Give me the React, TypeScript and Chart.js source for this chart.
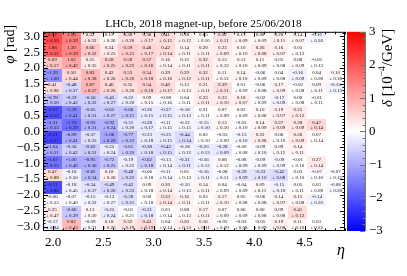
import React, { useEffect, useRef } from "react";
import { Chart, registerables } from "chart.js";

Chart.register(...registerables);

const TITLE = "LHCb, 2018 magnet-up, before 25/06/2018";
const ETA_MIN = 1.9;
const ETA_MAX = 4.9;
const PHI_MIN = -Math.PI;
const PHI_MAX = Math.PI;
const N_ETA = 16;
const N_PHI = 16;
const ETA_TICKS = [2.0, 2.5, 3.0, 3.5, 4.0, 4.5];
const PHI_TICKS = [-3.0, -2.5, -2.0, -1.5, -1.0, -0.5, 0.0, 0.5, 1.0, 1.5, 2.0, 2.5, 3.0];
const DELTA_TICKS = [-3, -2, -1, 0, 1, 2, 3];
const DELTA_RANGE = 3;

// rows listed from the top phi bin (near +pi) to the bottom one (near -pi); null = empty bin
const DELTA: (number | null)[][] = [
  [2.12, 1.53, 0.32, 0.11, 0.38, 0.38, 0.41, 0.18, 0.05, 0.32, 0.13, 0.08, 0.20, 0.14, -0.10, null],
  [1.88, 1.39, 0.66, 0.24, 0.59, 0.48, 0.42, 0.14, 0.20, 0.23, 0.10, 0.26, 0.16, 0.05, null, null],
  [0.69, 1.02, 0.25, 0.58, 0.58, 0.57, 0.16, 0.12, 0.32, 0.13, 0.11, 0.11, 0.02, 0.08, -0.02, null],
  [-1.29, 0.50, 0.83, 0.42, 0.53, 0.54, 0.29, 0.29, 0.32, 0.11, 0.14, -0.06, 0.04, -0.16, 0.04, 0.10],
  [0.41, -0.48, 0.87, 0.46, 0.35, 0.54, 0.40, 0.13, 0.21, 0.39, 0.01, -0.06, 0.17, -0.02, 0.09, -0.15],
  [-0.78, -0.59, -0.56, -0.45, -0.22, 0.09, -0.08, 0.04, 0.23, 0.23, 0.18, -0.02, -0.17, 0.00, -0.01, null],
  [-2.07, -1.39, -0.65, -0.62, -0.66, -0.26, -0.27, -0.18, 0.01, 0.07, 0.02, 0.10, 0.19, 0.25, null, null],
  [-1.31, -1.70, -0.93, -0.92, -0.31, -0.28, -0.11, -0.12, -0.15, 0.13, -0.03, 0.14, 0.27, 0.28, 0.47, null],
  [-2.21, -0.99, -0.37, -1.06, -0.77, -0.23, -0.25, -0.44, 0.02, -0.03, -0.13, 0.22, 0.06, 0.26, 0.07, null],
  [-1.04, -0.56, -0.62, -0.25, -0.61, -0.38, -0.42, -0.18, -0.23, -0.28, -0.004, -0.09, 0.09, 0.14, null, null],
  [-1.67, -1.00, -0.95, -0.72, -0.19, -0.62, -0.13, -0.31, -0.16, 0.08, -0.08, -0.09, -0.09, -0.01, 0.27, null],
  [0.47, -0.18, -0.82, 0.18, -0.48, -0.06, -0.11, 0.05, -0.16, -0.08, -0.29, -0.33, -0.42, 0.03, -0.07, -0.07],
  [-2.11, -0.18, -0.34, -0.49, -0.42, 0.09, 0.20, -0.10, 0.14, 0.04, -0.04, 0.09, -0.15, 0.05, 0.03, -0.08],
  [-0.06, -0.07, -0.15, -0.13, -0.38, 0.00, 0.33, 0.16, 0.03, 0.17, 0.05, -0.06, 0.14, 0.13, -0.14, null],
  [0.25, -0.66, 0.13, -0.25, -0.01, -0.31, 0.03, 0.08, 0.17, 0.07, 0.06, 0.06, 0.09, 0.41, null, null],
  [-0.17, 0.82, -0.09, 0.18, 0.32, 0.43, 0.04, 0.20, 0.16, -0.02, -0.03, -0.05, 0.19, 0.11, 0.03, null],
];

const ERRORS: (number | null)[][] = [
  [0.50, 0.39, 0.32, 0.26, 0.20, 0.17, 0.15, 0.12, 0.10, 0.11, 0.09, 0.09, 0.11, 0.07, 0.26, null],
  [0.52, 0.39, 0.32, 0.23, 0.21, 0.17, 0.14, 0.11, 0.11, 0.09, 0.10, 0.08, 0.07, 0.12, null, null],
  [0.57, 0.42, 0.35, 0.25, 0.22, 0.16, 0.14, 0.11, 0.11, 0.12, 0.10, 0.09, 0.08, 0.09, 0.13, null],
  [1.00, 0.44, 0.38, 0.26, 0.20, 0.18, 0.16, 0.12, 0.11, 0.12, 0.10, 0.09, 0.08, 0.09, 0.08, 0.18],
  [0.96, 0.37, 0.37, 0.26, 0.20, 0.18, 0.17, 0.13, 0.11, 0.11, 0.09, 0.08, 0.09, 0.08, 0.11, 0.15],
  [0.50, 0.42, 0.32, 0.27, 0.20, 0.15, 0.16, 0.11, 0.11, 0.10, 0.07, 0.09, 0.09, 0.08, 0.11, null],
  [0.52, 0.41, 0.31, 0.27, 0.21, 0.15, 0.15, 0.13, 0.11, 0.09, 0.09, 0.08, 0.07, 0.12, null, null],
  [0.53, 0.39, 0.31, 0.24, 0.20, 0.17, 0.15, 0.15, 0.10, 0.10, 0.10, 0.09, 0.09, 0.09, 0.14, null],
  [0.57, 0.41, 0.35, 0.26, 0.22, 0.18, 0.15, 0.14, 0.10, 0.09, 0.10, 0.08, 0.10, 0.09, 0.14, null],
  [0.51, 0.42, 0.31, 0.24, 0.20, 0.18, 0.15, 0.12, 0.13, 0.09, 0.08, 0.10, 0.12, 0.11, null, null],
  [0.53, 0.40, 0.36, 0.25, 0.22, 0.18, 0.14, 0.11, 0.12, 0.12, 0.09, 0.09, 0.09, 0.10, 0.14, null],
  [0.88, 0.50, 0.34, 0.26, 0.22, 0.18, 0.14, 0.13, 0.11, 0.11, 0.09, 0.10, 0.08, 0.10, 0.10, 0.15],
  [0.80, 0.45, 0.37, 0.26, 0.23, 0.18, 0.14, 0.13, 0.11, 0.09, 0.09, 0.11, 0.10, 0.11, 0.08, 0.28],
  [0.53, 0.40, 0.32, 0.27, 0.21, 0.18, 0.14, 0.11, 0.11, 0.10, 0.08, 0.08, 0.07, 0.08, 0.20, null],
  [0.47, 0.39, 0.30, 0.24, 0.21, 0.18, 0.14, 0.12, 0.11, 0.09, 0.09, 0.08, 0.08, 0.12, null, null],
  [0.84, 0.43, 0.31, 0.26, 0.19, 0.19, 0.14, 0.13, 0.11, 0.09, 0.08, 0.09, 0.08, 0.10, 0.22, null],
];

const SERIF = '"Liberation Serif", "Times New Roman", serif';
const MINUS = "\u2212";

function colorFor(v: number): string {
  const t = Math.max(-1, Math.min(1, v / DELTA_RANGE));
  if (t >= 0) {
    const c = Math.round(255 * (1 - t));
    return `rgb(255,${c},${c})`;
  }
  const c = Math.round(255 * (1 + t));
  return `rgb(${c},${c},255)`;
}

function buildCells() {
  const dEta = (ETA_MAX - ETA_MIN) / N_ETA;
  const dPhi = (PHI_MAX - PHI_MIN) / N_PHI;
  const cells: any[] = [];
  DELTA.forEach((row, r) => {
    const phiBin = N_PHI - 1 - r;
    row.forEach((v, c) => {
      if (v === null) return;
      cells.push({
        x: ETA_MIN + (c + 0.5) * dEta,
        y: PHI_MIN + (phiBin + 0.5) * dPhi,
        v,
        e: ERRORS[r][c],
      });
    });
  });
  return cells;
}

const heatmapPlugin = {
  id: "heatmapCells",
  beforeDatasetsDraw(chart: any) {
    const { ctx } = chart;
    const xs = chart.scales.x;
    const ys = chart.scales.y;
    const dEta = (ETA_MAX - ETA_MIN) / N_ETA;
    const dPhi = (PHI_MAX - PHI_MIN) / N_PHI;
    const pts = chart.data.datasets[0].data;
    ctx.save();
    for (const p of pts) {
      const x0 = Math.round(xs.getPixelForValue(p.x - dEta / 2));
      const x1 = Math.round(xs.getPixelForValue(p.x + dEta / 2));
      const y0 = Math.round(ys.getPixelForValue(p.y + dPhi / 2));
      const y1 = Math.round(ys.getPixelForValue(p.y - dPhi / 2));
      ctx.fillStyle = colorFor(p.v);
      ctx.fillRect(x0, y0, x1 - x0, y1 - y0);
    }
    ctx.fillStyle = "#111";
    ctx.font = `5px ${SERIF}`;
    ctx.textAlign = "center";
    ctx.textBaseline = "middle";
    for (const p of pts) {
      const cx = xs.getPixelForValue(p.x);
      const cy = ys.getPixelForValue(p.y);
      ctx.fillText(p.v.toFixed(2), cx, cy - 2.9);
      ctx.fillText("\u00b1 " + p.e.toFixed(2), cx, cy + 2.9);
    }
    ctx.restore();
  },
  afterDatasetsDraw(chart: any) {
    const { ctx, chartArea } = chart;
    const { left, right, top, bottom } = chartArea;
    const xs = chart.scales.x;
    const ys = chart.scales.y;
    ctx.save();
    ctx.strokeStyle = "#000";
    ctx.lineWidth = 1;
    ctx.strokeRect(left + 0.5, top + 0.5, right - left - 1, bottom - top - 1);
    ctx.beginPath();
    for (let i = Math.ceil(ETA_MIN * 10); i <= Math.floor(ETA_MAX * 10); i++) {
      const px = Math.round(xs.getPixelForValue(i / 10)) + 0.5;
      const len = i % 5 === 0 ? 5 : 2.5;
      ctx.moveTo(px, bottom);
      ctx.lineTo(px, bottom - len);
      ctx.moveTo(px, top);
      ctx.lineTo(px, top + len);
    }
    for (let i = Math.ceil(PHI_MIN * 10); i <= Math.floor(PHI_MAX * 10); i++) {
      const py = Math.round(ys.getPixelForValue(i / 10)) + 0.5;
      const len = i % 5 === 0 ? 5 : 2.5;
      ctx.moveTo(left, py);
      ctx.lineTo(left + len, py);
      ctx.moveTo(right, py);
      ctx.lineTo(right - len, py);
    }
    ctx.stroke();
    ctx.restore();
  },
};

const colorbarPlugin = {
  id: "colorbar",
  afterDraw(chart: any) {
    const { ctx, chartArea } = chart;
    const zs = chart.scales.z;
    const xL = chartArea.right + 2;
    const xR = chartArea.right + 20;
    const yTop = zs.getPixelForValue(DELTA_RANGE);
    const yBot = zs.getPixelForValue(-DELTA_RANGE);
    ctx.save();
    const g = ctx.createLinearGradient(0, yTop, 0, yBot);
    g.addColorStop(0, colorFor(DELTA_RANGE));
    g.addColorStop(0.5, colorFor(0));
    g.addColorStop(1, colorFor(-DELTA_RANGE));
    ctx.fillStyle = g;
    ctx.fillRect(xL, yTop, xR - xL, yBot - yTop);
    ctx.strokeStyle = "#777";
    ctx.lineWidth = 1;
    ctx.beginPath();
    ctx.moveTo(xR + 0.5, yTop);
    ctx.lineTo(xR + 0.5, yBot);
    for (let i = -15; i <= 15; i++) {
      const v = i / 5;
      const py = Math.round(zs.getPixelForValue(v)) + 0.5;
      const len = i % 5 === 0 ? 5 : 2.5;
      ctx.moveTo(xR, py);
      ctx.lineTo(xR - len, py);
    }
    ctx.stroke();

    // colour-bar title: delta [10^-4/GeV], reading bottom to top, ending at the top
    ctx.fillStyle = "#000";
    ctx.textBaseline = "middle";
    ctx.textAlign = "left";
    const fs = 15;
    const parts = [
      { t: "\u03b4", f: `italic ${fs}px ${SERIF}`, dy: 0 },
      { t: " [10", f: `${fs}px ${SERIF}`, dy: 0 },
      { t: MINUS + "4", f: `${fs * 0.62}px ${SERIF}`, dy: -5 },
      { t: "/GeV]", f: `${fs}px ${SERIF}`, dy: 0 },
    ];
    let total = 0;
    const widths = parts.map((p) => {
      ctx.font = p.f;
      const w = ctx.measureText(p.t).width;
      total += w;
      return w;
    });
    ctx.translate(chartArea.right + 43, chartArea.top - 3);
    ctx.rotate(-Math.PI / 2);
    let xp = -total;
    parts.forEach((p, i) => {
      ctx.font = p.f;
      ctx.fillText(p.t, xp, p.dy);
      xp += widths[i];
    });
    ctx.restore();

    // y-axis title: phi [rad]
    ctx.save();
    ctx.fillStyle = "#000";
    ctx.textBaseline = "middle";
    ctx.textAlign = "left";
    const yparts = [
      { t: "\u03c6", f: `italic 15px ${SERIF}` },
      { t: " [rad]", f: `14px ${SERIF}` },
    ];
    let yt = 0;
    const yw = yparts.map((p) => {
      ctx.font = p.f;
      const w = ctx.measureText(p.t).width;
      yt += w;
      return w;
    });
    ctx.translate(10, chartArea.top - 7);
    ctx.rotate(-Math.PI / 2);
    let yp = -yt;
    yparts.forEach((p, i) => {
      ctx.font = p.f;
      ctx.fillText(p.t, yp, 0);
      yp += yw[i];
    });
    ctx.restore();
  },
};

const fmt1 = (v: number) => (v < 0 ? MINUS : "") + Math.abs(v).toFixed(1);
const fmt0 = (v: number) => (v < 0 ? MINUS : "") + Math.abs(v).toFixed(0);

export default function App() {
  const ref = useRef<HTMLCanvasElement | null>(null);
  useEffect(() => {
    if (!ref.current) return;
    const tickFont = { family: SERIF, size: 13 };
    const chart = new Chart(ref.current, {
      type: "scatter",
      data: {
        datasets: [
          {
            data: buildCells(),
            pointRadius: 0,
            pointHoverRadius: 0,
          },
        ],
      },
      options: {
        animation: false,
        responsive: false,
        events: [],
        layout: { padding: 0 },
        plugins: {
          legend: { display: false },
          tooltip: { enabled: false },
          title: {
            display: true,
            text: TITLE,
            color: "#000",
            font: { family: SERIF, size: 11.3, weight: "normal" },
            padding: { top: 5, bottom: 0.5 },
          },
        },
        scales: {
          x: {
            type: "linear",
            min: ETA_MIN,
            max: ETA_MAX,
            afterBuildTicks: (s: any) => {
              s.ticks = ETA_TICKS.map((value) => ({ value }));
            },
            afterFit: (s: any) => {
              s.height = 45;
            },
            grid: { display: false, drawTicks: false },
            border: { display: false },
            ticks: {
              autoSkip: false,
              maxRotation: 0,
              color: "#000",
              font: tickFont,
              padding: 4,
              callback: (v: any) => fmt1(Number(v)),
            },
            title: {
              display: true,
              text: "\u03b7",
              align: "end",
              color: "#000",
              font: { family: SERIF, size: 16, style: "italic" },
              padding: { top: 0, bottom: 16 },
            },
          },
          y: {
            type: "linear",
            min: PHI_MIN,
            max: PHI_MAX,
            afterBuildTicks: (s: any) => {
              s.ticks = PHI_TICKS.map((value) => ({ value }));
            },
            afterFit: (s: any) => {
              s.width = 43;
            },
            grid: { display: false, drawTicks: false },
            border: { display: false },
            ticks: {
              autoSkip: false,
              color: "#000",
              font: tickFont,
              padding: 3,
              callback: (v: any) => fmt1(Number(v)),
            },
          },
          z: {
            type: "linear",
            position: "right",
            min: -DELTA_RANGE,
            max: DELTA_RANGE,
            afterBuildTicks: (s: any) => {
              s.ticks = DELTA_TICKS.map((value) => ({ value }));
            },
            afterFit: (s: any) => {
              s.width = 62;
            },
            grid: { display: false, drawTicks: false },
            border: { display: false },
            ticks: {
              autoSkip: false,
              color: "#000",
              font: tickFont,
              padding: 24,
              callback: (v: any) => fmt0(Number(v)),
            },
          },
        },
      },
      plugins: [heatmapPlugin, colorbarPlugin],
    } as any);
    return () => chart.destroy();
  }, []);
  return (
    <div style={{ position: "absolute", left: 0, top: 0, width: 407, height: 276, background: "#fff" }}>
      <canvas ref={ref} width={407} height={276} style={{ width: 407, height: 276 }} />
    </div>
  );
}
